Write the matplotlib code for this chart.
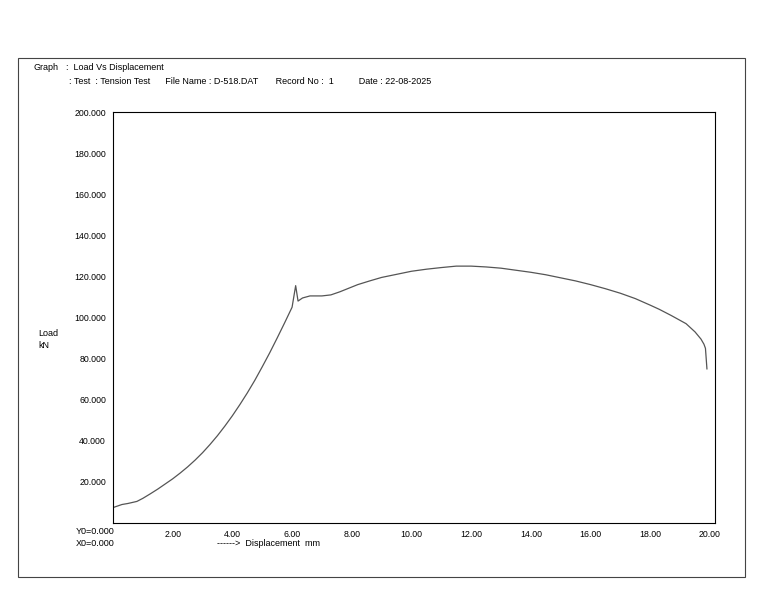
import matplotlib
matplotlib.use("Agg")
import matplotlib.pyplot as plt
from matplotlib.patches import Rectangle

plt.rcParams['font.family'] = ['Liberation Sans', 'DejaVu Sans']

disp = [0, 0.3, 0.5, 0.8, 1.0, 1.25, 1.5, 1.75, 2.0, 2.25, 2.5, 2.75, 3.0, 3.25, 3.5, 3.75, 4.0,
        4.25, 4.5, 4.75, 5.0, 5.25, 5.5, 5.75, 6.0, 6.12,
        6.2, 6.35, 6.6, 7.0, 7.3, 7.6, 8.2, 8.6, 9.0, 9.5, 10.0, 10.5, 11.0, 11.5, 12.0, 12.5,
        13.0, 13.5, 14.0, 14.5, 15.0, 15.5, 16.0, 16.5, 17.0, 17.5, 18.0, 18.3, 18.7, 19.2,
        19.5, 19.7, 19.8, 19.85, 19.9]
load = [7.5, 9.0, 9.5, 10.5, 12.0, 14.2, 16.5, 19.0, 21.5, 24.3, 27.3, 30.6, 34.2, 38.2, 42.5, 47.2, 52.2,
        57.6, 63.3, 69.4, 76.0, 82.8, 90.0, 97.4, 105.0, 115.5,
        108.0, 109.5, 110.5, 110.5, 111.0, 112.5, 116.0, 117.8, 119.5, 121.0, 122.5, 123.5, 124.3, 125.0, 125.0, 124.6,
        124.0, 123.0, 122.0, 120.8, 119.3, 117.8, 116.0, 114.0, 111.8, 109.2, 106.0, 104.0, 101.0, 97.0,
        93.0, 89.5, 87.0, 85.0, 75.0]
yticks = [20, 40, 60, 80, 100, 120, 140, 160, 180, 200]
xticks = [2, 4, 6, 8, 10, 12, 14, 16, 18, 20]

fig = plt.figure(figsize=(7.68, 5.94), dpi=100)
fig.patches.append(Rectangle((18/768, 1-577/594), 727/768, 519/594, transform=fig.transFigure,
                             fill=False, edgecolor='#444444', linewidth=0.8))
ax = fig.add_axes([113/768, 1-523/594, 602/768, 411/594])
ax.plot(disp, load, color='#555555', linewidth=0.9)
ax.set_xlim(0, 20.17)
ax.set_ylim(0, 200)
ax.set_yticks(yticks)
ax.set_yticklabels([f"{v:.3f}" for v in yticks])
ax.set_xticks(xticks)
ax.set_xticklabels([f"{v:.2f}" for v in xticks])
ax.tick_params(labelsize=6.3, length=0, pad=5)
for s in ax.spines.values():
    s.set_linewidth(0.8)

fs = 6.5
fig.text(33/768, 1-68/594, "Graph", fontsize=fs, va='center')
fig.text(66/768, 1-68/594, ":  Load Vs Displacement", fontsize=fs, va='center')
fig.text(69/768, 1-82/594, ": Test  : Tension Test      File Name : D-518.DAT       Record No :  1          Date : 22-08-2025",
         fontsize=fs, va='center')
fig.text(38/768, 1-334/594, "Load", fontsize=fs, va='center')
fig.text(38/768, 1-346/594, "kN", fontsize=fs, va='center')
fig.text(76/768, 1-532/594, "Y0=0.000", fontsize=fs, va='center')
fig.text(76/768, 1-543/594, "X0=0.000", fontsize=fs, va='center')
fig.text(217/768, 1-544/594, "------>  Displacement  mm", fontsize=fs, va='center')

fig.savefig("out.png", dpi=100)
